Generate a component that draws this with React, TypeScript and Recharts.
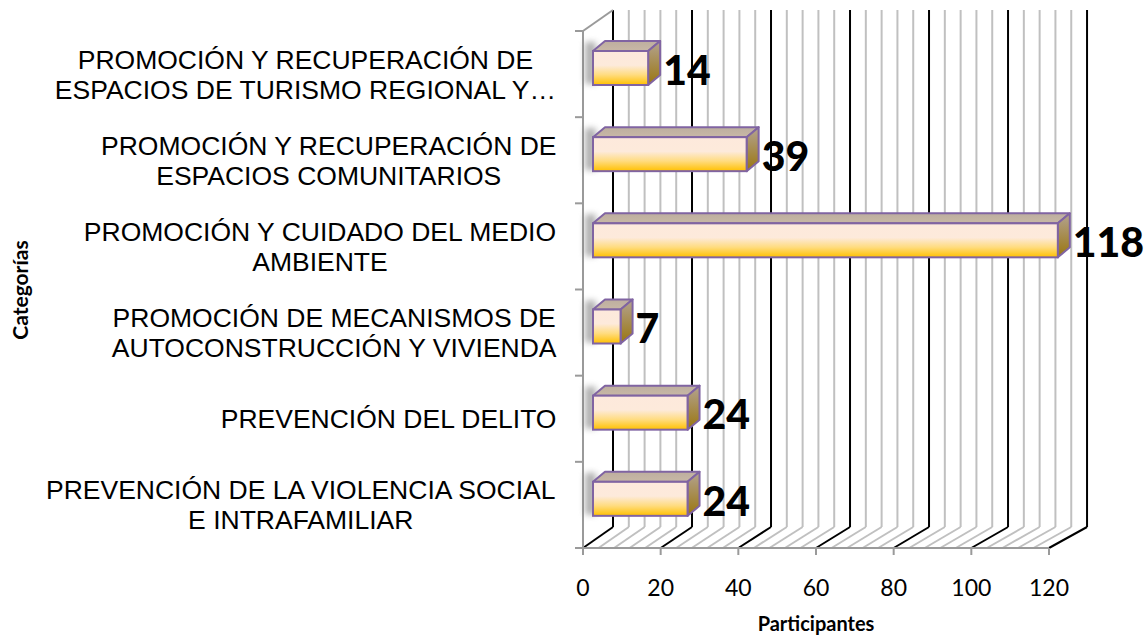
import { BarChart, Bar, XAxis, YAxis, ReferenceLine, LabelList } from "recharts";

// categorías, de arriba hacia abajo
const categories = [
  "PROMOCIÓN Y RECUPERACIÓN DE\nESPACIOS DE TURISMO REGIONAL Y…",
  "PROMOCIÓN Y RECUPERACIÓN DE\nESPACIOS COMUNITARIOS",
  "PROMOCIÓN Y CUIDADO DEL MEDIO\nAMBIENTE",
  "PROMOCIÓN DE MECANISMOS DE\nAUTOCONSTRUCCIÓN Y VIVIENDA",
  "PREVENCIÓN DEL DELITO",
  "PREVENCIÓN DE LA VIOLENCIA SOCIAL\nE INTRAFAMILIAR",
];
const participantes = [14, 39, 118, 7, 24, 24];
const xTicks = [0, 20, 40, 60, 80, 100, 120];
const minorStep = 4;

const data = categories.map((name, i) => ({ name, value: participantes[i] }));

// pseudo 3D box: back wall sits up-right of the front plane (px)
const DEPTH_PX_X = 30;
const DEPTH_PX_Y = 21;
const PERSPECTIVE = 0.067; // back wall is a touch wider
const depthPx = (v: number) => DEPTH_PX_X + v * PERSPECTIVE;

// bars sit a bit inside the box
const BAR_SHIFT_X = 10;
const BAR_SHIFT_Y = 6;
const BOX_DX = 12;
const BOX_DY = 10;

const xMax = xTicks[xTicks.length - 1];
const gridValues: number[] = [];
for (let v = 0; v <= xMax; v += minorStep) gridValues.push(v);

const LABEL_FONT_SIZE = 26.5;
const LABEL_LINE_H = 30;
const LABEL_FONT = `${LABEL_FONT_SIZE}px "Liberation Sans", Arial, sans-serif`;
const AXIS_GRAY = "#9a9a9a";
const MINOR_GRAY = "#c0c0c0";

let measureCtx: CanvasRenderingContext2D | null = null;
function textWidth(s: string) {
  if (!measureCtx) measureCtx = document.createElement("canvas").getContext("2d");
  if (!measureCtx) return s.length * 15;
  measureCtx.font = LABEL_FONT;
  return measureCtx.measureText(s).width;
}

function CategoryTick({ x, y, payload }: any) {
  const lines = String(payload.value).split("\n");
  const maxW = Math.max(...lines.map(textWidth));
  const cx = x - maxW / 2;
  const top = y - ((lines.length - 1) * LABEL_LINE_H) / 2;
  return (
    <text
      textAnchor="middle"
      fontFamily='"Liberation Sans", Arial, sans-serif'
      fontSize={LABEL_FONT_SIZE}
      fill="#000"
    >
      {lines.map((l, i) => (
        <tspan key={i} x={cx} y={top + i * LABEL_LINE_H} dy="0.36em">
          {l}
        </tspan>
      ))}
    </text>
  );
}

function Box3D(props: any) {
  const { x, y, width, height } = props;
  if (width == null || height == null) return null;
  const fx = x + BAR_SHIFT_X;
  const fy = y - BAR_SHIFT_Y;
  const rx = fx + width;
  return (
    <g>
      <rect
        x={fx - 8}
        y={fy - 9}
        width={11}
        height={height + 8}
        fill="#6f6f6f"
        opacity={0.55}
        filter="url(#barShadow)"
      />
      <polygon
        points={`${fx},${fy} ${fx + BOX_DX},${fy - BOX_DY} ${rx + BOX_DX},${fy - BOX_DY} ${rx},${fy}`}
        fill="url(#topFace)"
        stroke="#8064a2"
        strokeWidth={2}
        strokeLinejoin="round"
      />
      <polygon
        points={`${rx},${fy} ${rx + BOX_DX},${fy - BOX_DY} ${rx + BOX_DX},${fy + height - BOX_DY} ${rx},${fy + height}`}
        fill="url(#sideFace)"
        stroke="#8064a2"
        strokeWidth={2}
        strokeLinejoin="round"
      />
      <rect
        x={fx}
        y={fy}
        width={width}
        height={height}
        fill="url(#frontFace)"
        stroke="#8064a2"
        strokeWidth={2}
      />
    </g>
  );
}

function ValueLabel(props: any) {
  const vb = props.viewBox ?? {};
  const x = props.x ?? vb.x;
  const y = props.y ?? vb.y;
  const width = props.width ?? vb.width;
  const height = props.height ?? vb.height;
  return (
    <text
      x={x + width + BAR_SHIFT_X + 15}
      y={y + height / 2 - BAR_SHIFT_Y + 2}
      dy="0.36em"
      fontFamily="Lato, sans-serif"
      fontWeight={900}
      fontSize={41}
      fill="#000"
    >
      {props.value}
    </text>
  );
}

// shapes for the vertical reference lines (x1 comes from the axis scale)
const wallShape = (v: number, stroke: string) => (p: any) => (
  <line
    x1={p.x1 + depthPx(v)}
    y1={Math.min(p.y1, p.y2) - DEPTH_PX_Y}
    x2={p.x2 + depthPx(v)}
    y2={Math.max(p.y1, p.y2) - DEPTH_PX_Y}
    stroke={stroke}
    strokeWidth={2}
  />
);

const floorShape = (v: number, stroke: string) => (p: any) => {
  const yb = Math.max(p.y1, p.y2);
  return (
    <line
      x1={p.x1}
      y1={yb}
      x2={p.x1 + depthPx(v)}
      y2={yb - DEPTH_PX_Y}
      stroke={stroke}
      strokeWidth={2}
    />
  );
};

// left side: front axis line, top edge of the side wall, category tick marks
const leftShape = (p: any) => {
  const top = Math.min(p.y1, p.y2);
  const bottom = Math.max(p.y1, p.y2);
  const n = categories.length;
  const step = (bottom - top) / n;
  return (
    <g stroke={AXIS_GRAY} strokeWidth={2}>
      <line x1={p.x1} y1={top} x2={p.x1} y2={bottom} />
      <line x1={p.x1} y1={top} x2={p.x1 + depthPx(0)} y2={top - DEPTH_PX_Y} />
      {categories.map((_, i) => (
        <line key={i} x1={p.x1 - 8} y1={top + i * step} x2={p.x1} y2={top + i * step} />
      ))}
      <line x1={p.x1 - 8} y1={bottom} x2={p.x1} y2={bottom} />
    </g>
  );
};

function gridLine(v: number, kind: "wall" | "floor", stroke: string) {
  return (
    <ReferenceLine
      key={`${kind}${v}`}
      x={v}
      xAxisId="front"
      yAxisId="cat"
      ifOverflow="visible"
      zIndex={-100}
      shape={kind === "wall" ? wallShape(v, stroke) : floorShape(v, stroke)}
    />
  );
}

export default function App() {
  const minors = gridValues.filter((v) => v % 20 !== 0);
  const majors = gridValues.filter((v) => v % 20 === 0);

  return (
    <div style={{ position: "absolute", left: 0, top: 0, background: "#fff" }}>
      <BarChart
        width={1147}
        height={642}
        data={data}
        layout="vertical"
        margin={{ top: 31, right: 98, bottom: 0, left: 0 }}
      >
        <defs>
          <linearGradient id="frontFace" x1="0" y1="0" x2="0" y2="1">
            <stop offset="0" stopColor="#fde9dc" />
            <stop offset="0.42" stopColor="#fdeadb" />
            <stop offset="0.7" stopColor="#ffdc80" />
            <stop offset="1" stopColor="#ffc000" />
          </linearGradient>
          <linearGradient id="topFace" x1="0" y1="0" x2="0" y2="1">
            <stop offset="0" stopColor="#bdae9f" />
            <stop offset="1" stopColor="#c8b8a6" />
          </linearGradient>
          <linearGradient id="sideFace" x1="0" y1="0" x2="0" y2="1">
            <stop offset="0" stopColor="#b3a392" />
            <stop offset="1" stopColor="#9a760e" />
          </linearGradient>
          <filter id="barShadow" x="-100%" y="-50%" width="300%" height="200%">
            <feGaussianBlur stdDeviation="3" />
          </filter>
        </defs>

        {/* bar plane sits deeper than the front axis, slightly larger scale */}
        <XAxis xAxisId="bar" type="number" domain={[0, 118.3]} height={0} hide />
        <XAxis
          xAxisId="front"
          type="number"
          domain={[0, xMax]}
          allowDataOverflow
          ticks={xTicks}
          height={94}
          axisLine={{ stroke: AXIS_GRAY, strokeWidth: 2 }}
          tickLine={{ stroke: AXIS_GRAY, strokeWidth: 2 }}
          tickSize={7}
          tickMargin={25}
          tick={{ fill: "#000", fontSize: 23, fontFamily: "Lato, sans-serif" }}
          label={{
            value: "Participantes",
            position: "insideBottom",
            offset: 11,
            fill: "#000",
            fontSize: 20,
            fontWeight: 700,
            fontFamily: "Lato, sans-serif",
          }}
        />
        <YAxis
          yAxisId="cat"
          type="category"
          dataKey="name"
          width={583}
          axisLine={false}
          tickLine={false}
          tickSize={0}
          tickMargin={26}
          interval={0}
          tick={<CategoryTick />}
        />

        {/* back wall + floor */}
        {minors.map((v) => gridLine(v, "wall", MINOR_GRAY))}
        {minors.map((v) => gridLine(v, "floor", MINOR_GRAY))}
        {majors.map((v) => gridLine(v, "wall", "#000"))}
        {majors.map((v) => gridLine(v, "floor", "#000"))}
        <ReferenceLine
          x={0}
          xAxisId="front"
          yAxisId="cat"
          ifOverflow="visible"
          zIndex={-100}
          shape={leftShape}
        />

        <Bar
          dataKey="value"
          xAxisId="bar"
          yAxisId="cat"
          barSize={34}
          shape={<Box3D />}
          isAnimationActive={false}
        >
          <LabelList dataKey="value" content={<ValueLabel />} />
        </Bar>

        <text
          x={28}
          y={290}
          transform="rotate(-90, 28, 290)"
          textAnchor="middle"
          fontFamily="Lato, sans-serif"
          fontWeight={700}
          fontSize={21}
          fill="#000"
        >
          Categorías
        </text>
      </BarChart>
    </div>
  );
}
